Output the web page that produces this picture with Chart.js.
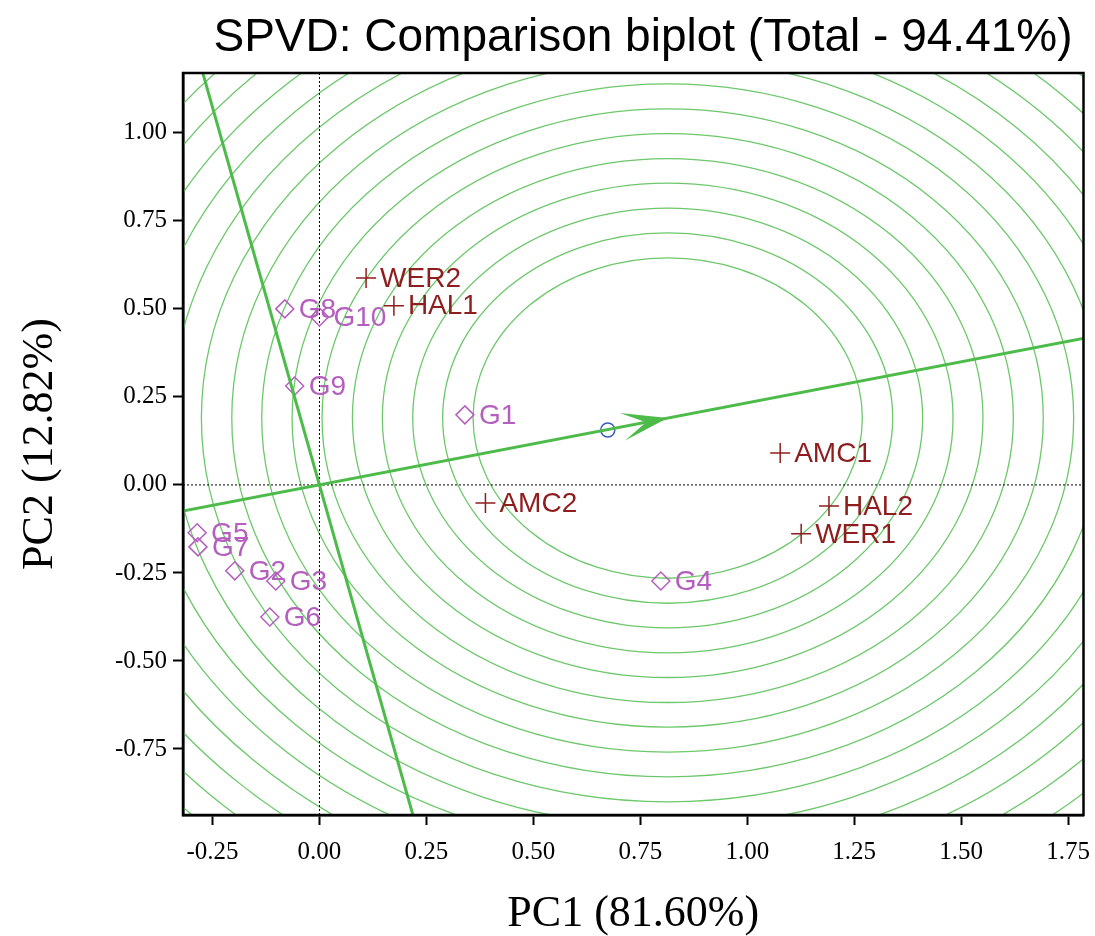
<!DOCTYPE html>
<html>
<head>
<meta charset="utf-8">
<script src="https://cdn.jsdelivr.net/npm/chart.js@4/dist/chart.umd.min.js"></script>
<style>
  html, body { margin: 0; padding: 0; background: #fff; }
</style>
</head>
<body>
<canvas id="myChart" width="1095" height="936"></canvas>
<script>
// genotypes (diamonds)
const genoNames = ['G1', 'G2', 'G3', 'G4', 'G5', 'G6', 'G7', 'G8', 'G9', 'G10'];
const genoX = [0.340, -0.198, -0.102, 0.798, -0.286, -0.116, -0.284, -0.081, -0.058, 0.000];
const genoY = [0.199, -0.244, -0.273, -0.273, -0.136, -0.375, -0.176, 0.500, 0.281, 0.477];

// environments (plus signs)
const envNames = ['WER2', 'HAL1', 'AMC1', 'AMC2', 'HAL2', 'WER1'];
const envX = [0.109, 0.174, 1.077, 0.388, 1.191, 1.126];
const envY = [0.588, 0.509, 0.091, -0.051, -0.060, -0.139];

// ideal genotype (ring centre / arrow tip) and average environment
const idealPoint = [0.814, 0.190];
const avgEnv = [0.674, 0.156];

// AEC axis and its perpendicular through the origin
const aecLine = [[-0.40, -0.093], [1.90, 0.443]];
const perpLine = [[-0.296, 1.27], [0.233, -1.00]];

// concentric ring radii around the ideal point
const ringRadii = [0.455, 0.526, 0.596, 0.667, 0.737, 0.808, 0.878, 0.949, 1.019,
  1.090, 1.160, 1.231, 1.301, 1.372, 1.442, 1.513, 1.583, 1.654];

const xTicks = [-0.25, 0, 0.25, 0.5, 0.75, 1.0, 1.25, 1.5, 1.75];
const yTicks = [-0.75, -0.5, -0.25, 0, 0.25, 0.5, 0.75, 1.0];

const green = '#4dbb4a';
const ringGreen = '#6cc86a';
const violet = '#b45fbe';
const darkRed = '#8e1d1d';

const biplotPlugin = {
  id: 'biplot',
  beforeDatasetsDraw(chart) {
    const { ctx, chartArea: a, scales: { x, y } } = chart;
    ctx.save();
    ctx.beginPath();
    ctx.rect(a.left, a.top, a.right - a.left, a.bottom - a.top);
    ctx.clip();
    const cx = x.getPixelForValue(idealPoint[0]);
    const cy = y.getPixelForValue(idealPoint[1]);
    const ux = Math.abs(x.getPixelForValue(1) - x.getPixelForValue(0));
    const uy = Math.abs(y.getPixelForValue(0) - y.getPixelForValue(1));
    ctx.strokeStyle = ringGreen;
    ctx.lineWidth = 1.3;
    ringRadii.forEach(r => {
      ctx.beginPath();
      ctx.ellipse(cx, cy, r * ux, r * uy, 0, 0, Math.PI * 2);
      ctx.stroke();
    });
    // dotted zero lines
    const x0 = x.getPixelForValue(0), y0 = y.getPixelForValue(0);
    ctx.strokeStyle = '#000';
    ctx.lineWidth = 1;
    ctx.setLineDash([2, 2]);
    ctx.beginPath();
    ctx.moveTo(x0, a.top); ctx.lineTo(x0, a.bottom);
    ctx.moveTo(a.left, y0); ctx.lineTo(a.right, y0);
    ctx.stroke();
    ctx.restore();
  },
  afterDatasetsDraw(chart) {
    const { ctx, scales: { x, y } } = chart;
    ctx.save();
    // arrow head on the AEC
    const ox = x.getPixelForValue(0), oy = y.getPixelForValue(0);
    const tx = x.getPixelForValue(idealPoint[0]), ty = y.getPixelForValue(idealPoint[1]);
    const len = Math.hypot(tx - ox, ty - oy);
    const dx = (tx - ox) / len, dy = (ty - oy) / len;
    const nx = -dy, ny = dx;
    ctx.fillStyle = green;
    ctx.beginPath();
    ctx.moveTo(tx, ty);
    ctx.lineTo(tx - 46 * dx + 14 * nx, ty - 46 * dy + 14 * ny);
    ctx.lineTo(tx - 22 * dx, ty - 22 * dy);
    ctx.lineTo(tx - 46 * dx - 14 * nx, ty - 46 * dy - 14 * ny);
    ctx.closePath();
    ctx.fill();

    // point labels
    ctx.font = '28px "Liberation Sans", Arial, sans-serif';
    ctx.textBaseline = 'middle';
    ctx.textAlign = 'left';
    ctx.fillStyle = violet;
    genoNames.forEach((n, i) => {
      ctx.fillText(n, x.getPixelForValue(genoX[i]) + 14, y.getPixelForValue(genoY[i]) + 1);
    });
    ctx.fillStyle = darkRed;
    envNames.forEach((n, i) => {
      ctx.fillText(n, x.getPixelForValue(envX[i]) + 14, y.getPixelForValue(envY[i]) + 1);
    });
    ctx.restore();
  },
  afterDraw(chart) {
    const { ctx, chartArea: a } = chart;
    ctx.save();
    ctx.strokeStyle = '#000';
    ctx.lineWidth = 2.5;
    ctx.strokeRect(a.left, a.top, a.right - a.left, a.bottom - a.top);
    ctx.fillStyle = '#000';
    ctx.font = '46px "Liberation Sans", Arial, sans-serif';
    ctx.textAlign = 'center';
    ctx.textBaseline = 'middle';
    ctx.fillText('SPVD: Comparison biplot (Total - 94.41%)', 643, 38);
    ctx.restore();
  }
};

const myChart = new Chart('myChart', {
  type: 'scatter',
  data: {
    datasets: [
      {
        label: 'AEC',
        type: 'line',
        data: aecLine.map(p => ({ x: p[0], y: p[1] })),
        borderColor: green,
        borderWidth: 3,
        pointRadius: 0,
        fill: false
      },
      {
        label: 'AEC perpendicular',
        type: 'line',
        data: perpLine.map(p => ({ x: p[0], y: p[1] })),
        borderColor: green,
        borderWidth: 3,
        pointRadius: 0,
        fill: false
      },
      {
        label: 'Genotypes',
        data: genoX.map((v, i) => ({ x: v, y: genoY[i] })),
        pointStyle: 'rectRot',
        pointRadius: 9,
        borderColor: violet,
        backgroundColor: 'rgba(0,0,0,0)',
        borderWidth: 1.5
      },
      {
        label: 'Environments',
        data: envX.map((v, i) => ({ x: v, y: envY[i] })),
        pointStyle: 'cross',
        pointRadius: 10,
        borderColor: darkRed,
        borderWidth: 1.5
      },
      {
        label: 'Average environment',
        data: [{ x: avgEnv[0], y: avgEnv[1] }],
        pointStyle: 'circle',
        pointRadius: 7,
        borderColor: '#3a5cbf',
        backgroundColor: 'rgba(0,0,0,0)',
        borderWidth: 1.5
      }
    ]
  },
  options: {
    responsive: false,
    animation: false,
    layout: { padding: { top: 73, right: 7, left: 0, bottom: 0 } },
    plugins: {
      legend: { display: false },
      tooltip: { enabled: false },
      title: { display: false }
    },
    scales: {
      x: {
        type: 'linear',
        min: -0.319,
        max: 1.786,
        afterBuildTicks: s => { s.ticks = xTicks.map(v => ({ value: v })); },
        afterFit: s => {
          s.height = 121;
          s.paddingLeft = 0;
          s.paddingRight = 0;
          if (s._margins) { s._margins.left = 0; s._margins.right = 0; }
        },
        ticks: {
          callback: v => Number(v).toFixed(2),
          font: { family: '"Liberation Serif", "Times New Roman", serif', size: 25 },
          color: '#000',
          padding: 12,
          maxRotation: 0,
          autoSkip: false
        },
        grid: { drawOnChartArea: false, drawTicks: true, tickLength: 10, tickColor: '#000', tickWidth: 2 },
        border: { display: true, color: '#000', width: 2.5 },
        title: {
          display: true,
          text: 'PC1 (81.60%)',
          font: { family: '"Liberation Serif", "Times New Roman", serif', size: 44, lineHeight: 1 },
          color: '#000',
          padding: { top: 0, bottom: 0 }
        }
      },
      y: {
        type: 'linear',
        min: -0.9375,
        max: 1.17,
        afterBuildTicks: s => { s.ticks = yTicks.map(v => ({ value: v })); },
        afterFit: s => {
          s.width = 183;
          s.paddingTop = 0;
          s.paddingBottom = 0;
          if (s._margins) { s._margins.top = 0; s._margins.bottom = 0; }
        },
        ticks: {
          callback: v => Number(v).toFixed(2),
          font: { family: '"Liberation Serif", "Times New Roman", serif', size: 25 },
          color: '#000',
          padding: 6,
          autoSkip: false
        },
        grid: { drawOnChartArea: false, drawTicks: true, tickLength: 10, tickColor: '#000', tickWidth: 2 },
        border: { display: true, color: '#000', width: 2.5 },
        title: {
          display: true,
          text: 'PC2 (12.82%)',
          font: { family: '"Liberation Serif", "Times New Roman", serif', size: 44, lineHeight: 1 },
          color: '#000',
          padding: { top: 18, bottom: 0 }
        }
      }
    }
  },
  plugins: [biplotPlugin]
});
</script>
</body>
</html>
